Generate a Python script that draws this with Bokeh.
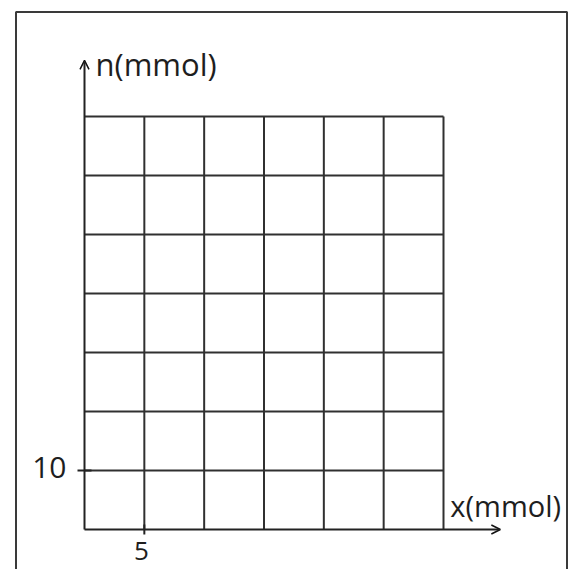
from bokeh.plotting import figure
from bokeh.models import Arrow, OpenHead
from bokeh.core.properties import value
from bokeh.embed import file_html
from bokeh.resources import INLINE

# ---- data ----
x_grid = [0, 5, 10, 15, 20, 25, 30]
y_grid = [0, 10, 20, 30, 40, 50, 60, 70]
x_ticks = [5]
x_tick_labels = ["5"]
y_ticks = [10]
y_tick_labels = ["10"]
x_axis_label = "x(mmol)"
y_axis_label = "n(mmol)"
x_axis_end = 34.75   # arrow tip of the x axis
y_axis_end = 79.5    # arrow tip of the y axis

# ---- layout (pixels) ----
W, H = 568, 569
ORIGIN_PX = (84, 529)          # canvas position of data (0, 0), y measured from top
SX = 359 / 30.0                # pixels per x unit
SY = 413 / 70.0                # pixels per y unit

x0 = -ORIGIN_PX[0] / SX
x1 = x0 + W / SX
y0 = -(H - ORIGIN_PX[1]) / SY
y1 = y0 + H / SY

def px_x(px):
    return x0 + px / SX

def px_y(px_from_top):
    return y1 - px_from_top / SY

FONT = value("Open Sans")
LINE = "#303030"
TEXT = "#1e1e1e"

p = figure(width=W, height=H, x_range=(x0, x1), y_range=(y0, y1),
           x_axis_location=None, y_axis_location=None,
           toolbar_location=None, output_backend="svg", min_border=0)
p.grid.visible = False
p.outline_line_color = None
p.background_fill_color = "white"
p.border_fill_color = "white"

# outer border (left, top, right)
bl, bt, br = px_x(15.5), px_y(11.5), px_x(W - 1.5)
p.line([bl, bl, br, br], [y0, bt, bt, y0], line_color="#3a3a3a", line_width=2)

# vertical grid lines
vx = [x for x in x_grid if x != 0]
p.segment(x0=vx, y0=[0] * len(vx), x1=vx, y1=[max(y_grid)] * len(vx),
          line_color=LINE, line_width=2)
# horizontal grid lines
hy = [y for y in y_grid if y != 0]
p.segment(x0=[0] * len(hy), y0=hy, x1=[max(x_grid)] * len(hy), y1=hy,
          line_color=LINE, line_width=2)

# axes with arrow heads
p.add_layout(Arrow(end=OpenHead(size=9, line_width=1.5, line_color="#111111"),
                   x_start=0, y_start=0, x_end=x_axis_end, y_end=0,
                   line_color="#222222", line_width=2))
p.add_layout(Arrow(end=OpenHead(size=9, line_width=1.5, line_color="#111111"),
                   x_start=0, y_start=0, x_end=0, y_end=y_axis_end,
                   line_color="#222222", line_width=2))

# tick marks
p.scatter(x=[0] * len(y_ticks), y=y_ticks, marker="dash", size=14,
          line_color="#222222", line_width=2)
p.scatter(x=x_ticks, y=[0] * len(x_ticks), marker="dash", size=10, angle=1.5708,
          line_color="#222222", line_width=2)

# tick labels
p.text(x=[0] * len(y_ticks), y=y_ticks, text=y_tick_labels, text_font=FONT,
       text_font_size=value("30px"), text_align="right", text_baseline="alphabetic",
       x_offset=-18, y_offset=-3, text_color=TEXT)
p.text(x=x_ticks, y=[0] * len(x_ticks), text=x_tick_labels, text_font=FONT,
       text_font_size=value("26px"), text_align="center", text_baseline="alphabetic",
       x_offset=-3, y_offset=21, text_color=TEXT)

# axis titles
p.text(x=[0], y=[y_axis_end], text=[y_axis_label], text_font=FONT,
       text_font_size=value("31px"), text_align="left", text_baseline="alphabetic",
       x_offset=11, y_offset=4, text_color=TEXT)
p.text(x=[x_axis_end], y=[0], text=[x_axis_label], text_font=FONT,
       text_font_size=value("29px"), text_align="left", text_baseline="alphabetic",
       x_offset=-50, y_offset=-24, text_color=TEXT)

open("out.html", "w").write(file_html(p, INLINE))
